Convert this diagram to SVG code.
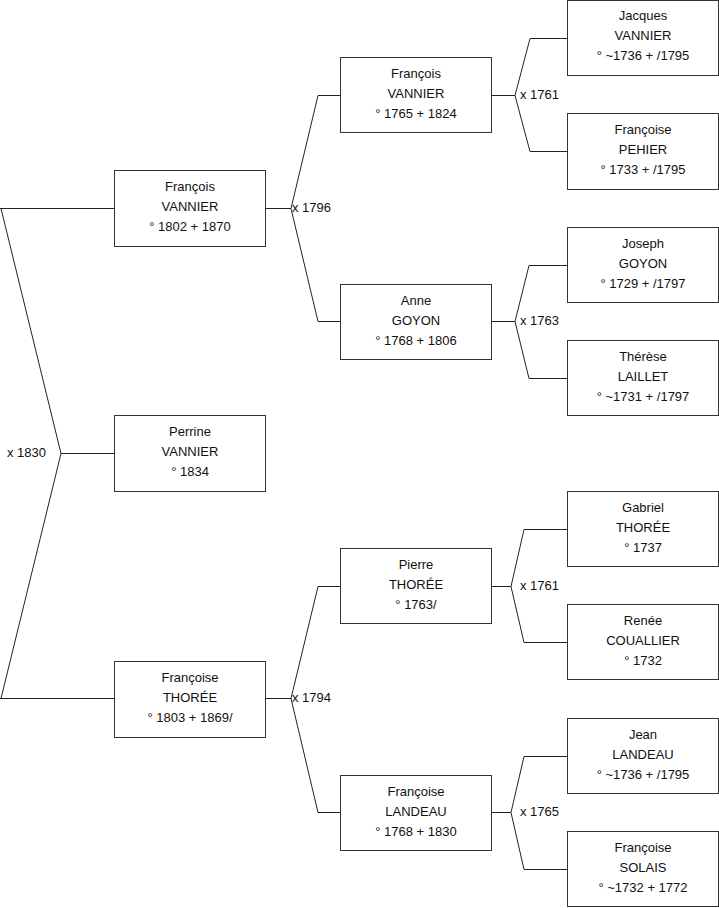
<svg xmlns="http://www.w3.org/2000/svg" width="719" height="908" viewBox="0 0 719 908">
<style>
.box{fill:#fff;stroke:#333;stroke-width:1}
.ln{fill:none;stroke:#222;stroke-width:1}
text{font-family:"Liberation Sans",Arial,sans-serif;font-size:13px;fill:#111}
.c{text-anchor:middle}
</style>
<rect width="719" height="908" fill="#fff"/>
<g id="connectors">
<path class="ln" d="M0,208.5H114.5M1,208.5L61,453.5L1,698.5M0,698.5H114.5M61,453.5H114.5"/>
<path class="ln" d="M265.5,208.5H291L318,95.5H340.5M291,208.5L318,321.5H340.5"/>
<path class="ln" d="M265.5,698.5H291L318,586.5H340.5M291,698.5L318,812.5H340.5"/>
<path class="ln" d="M491.5,95.5H515L530,38.5H567.5M515,95.5L530,151.5H567.5"/>
<path class="ln" d="M491.5,321.5H515L529,265.5H567.5M515,321.5L529,378.5H567.5"/>
<path class="ln" d="M491.5,586.5H511L524,529.5H567.5M511,586.5L524,642.5H567.5"/>
<path class="ln" d="M491.5,812.5H511L524,756.5H567.5M511,812.5L524,869.5H567.5"/>
<text x="7" y="457">x 1830</text>
<text x="292" y="212">x 1796</text>
<text x="292" y="702">x 1794</text>
<text x="520" y="99">x 1761</text>
<text x="520" y="325">x 1763</text>
<text x="520" y="590">x 1761</text>
<text x="520" y="816">x 1765</text>
</g>
<g id="n1"><rect class="box" x="114.5" y="170.5" width="151" height="76"/><text class="c" x="190" y="191">François</text><text class="c" x="190" y="211">VANNIER</text><text class="c" x="190" y="231">° 1802 + 1870</text></g>
<g id="n2"><rect class="box" x="114.5" y="415.5" width="151" height="76"/><text class="c" x="190" y="436">Perrine</text><text class="c" x="190" y="456">VANNIER</text><text class="c" x="190" y="476">° 1834</text></g>
<g id="n3"><rect class="box" x="114.5" y="661.5" width="151" height="76"/><text class="c" x="190" y="682">Françoise</text><text class="c" x="190" y="702">THORÉE</text><text class="c" x="190" y="722">° 1803 + 1869/</text></g>
<g id="n4"><rect class="box" x="340.5" y="57.5" width="151" height="75"/><text class="c" x="416" y="78">François</text><text class="c" x="416" y="98">VANNIER</text><text class="c" x="416" y="118">° 1765 + 1824</text></g>
<g id="n5"><rect class="box" x="340.5" y="284.5" width="151" height="75"/><text class="c" x="416" y="305">Anne</text><text class="c" x="416" y="325">GOYON</text><text class="c" x="416" y="345">° 1768 + 1806</text></g>
<g id="n6"><rect class="box" x="340.5" y="548.5" width="151" height="75"/><text class="c" x="416" y="569">Pierre</text><text class="c" x="416" y="589">THORÉE</text><text class="c" x="416" y="609">° 1763/</text></g>
<g id="n7"><rect class="box" x="340.5" y="775.5" width="151" height="75"/><text class="c" x="416" y="796">Françoise</text><text class="c" x="416" y="816">LANDEAU</text><text class="c" x="416" y="836">° 1768 + 1830</text></g>
<g id="n8"><rect class="box" x="567.5" y="0.5" width="151" height="75"/><text class="c" x="643" y="20">Jacques</text><text class="c" x="643" y="40">VANNIER</text><text class="c" x="643" y="60">° ~1736 + /1795</text></g>
<g id="n9"><rect class="box" x="567.5" y="113.5" width="151" height="76"/><text class="c" x="643" y="134">Françoise</text><text class="c" x="643" y="154">PEHIER</text><text class="c" x="643" y="174">° 1733 + /1795</text></g>
<g id="n10"><rect class="box" x="567.5" y="227.5" width="151" height="75"/><text class="c" x="643" y="248">Joseph</text><text class="c" x="643" y="268">GOYON</text><text class="c" x="643" y="288">° 1729 + /1797</text></g>
<g id="n11"><rect class="box" x="567.5" y="340.5" width="151" height="75"/><text class="c" x="643" y="361">Thérèse</text><text class="c" x="643" y="381">LAILLET</text><text class="c" x="643" y="401">° ~1731 + /1797</text></g>
<g id="n12"><rect class="box" x="567.5" y="491.5" width="151" height="75"/><text class="c" x="643" y="512">Gabriel</text><text class="c" x="643" y="532">THORÉE</text><text class="c" x="643" y="552">° 1737</text></g>
<g id="n13"><rect class="box" x="567.5" y="604.5" width="151" height="75"/><text class="c" x="643" y="625">Renée</text><text class="c" x="643" y="645">COUALLIER</text><text class="c" x="643" y="665">° 1732</text></g>
<g id="n14"><rect class="box" x="567.5" y="718.5" width="151" height="75"/><text class="c" x="643" y="739">Jean</text><text class="c" x="643" y="759">LANDEAU</text><text class="c" x="643" y="779">° ~1736 + /1795</text></g>
<g id="n15"><rect class="box" x="567.5" y="831.5" width="151" height="75"/><text class="c" x="643" y="852">Françoise</text><text class="c" x="643" y="872">SOLAIS</text><text class="c" x="643" y="892">° ~1732 + 1772</text></g>
</svg>
